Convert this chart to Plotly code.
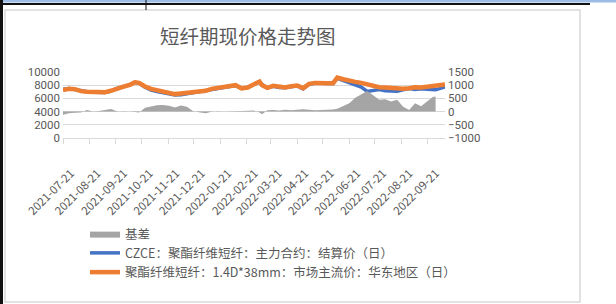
import plotly.graph_objects as go

dates = ["2021-07-21","2021-07-28","2021-08-04","2021-08-11","2021-08-18","2021-08-25",
         "2021-09-01","2021-09-08","2021-09-15","2021-09-22","2021-09-29","2021-10-08",
         "2021-10-13","2021-10-18","2021-10-25","2021-11-01","2021-11-08","2021-11-15",
         "2021-11-22","2021-11-29","2021-12-06","2021-12-13","2021-12-20","2021-12-27",
         "2022-01-04","2022-01-11","2022-01-18","2022-01-25","2022-02-08","2022-02-15",
         "2022-02-22","2022-03-01","2022-03-08","2022-03-11","2022-03-17","2022-03-24",
         "2022-03-31","2022-04-07","2022-04-14","2022-04-21","2022-04-28","2022-05-05",
         "2022-05-12","2022-05-19","2022-05-26","2022-06-02","2022-06-07","2022-06-14",
         "2022-06-21","2022-06-28","2022-07-05","2022-07-12","2022-07-19","2022-07-26",
         "2022-08-02","2022-08-09","2022-08-16","2022-08-23","2022-08-30","2022-09-06",
         "2022-09-13","2022-09-20","2022-09-27","2022-09-30","2022-10-11"]

spot = [7250,7450,7400,7100,7000,6950,6900,6950,7150,7500,7750,8100,
        8450,8350,7800,7450,7250,7100,6950,6650,6750,6850,6900,7000,
        7150,7450,7600,7750,8000,7500,7650,8100,8550,8000,7600,7900,
        7700,7650,7850,7950,7550,8200,8350,8400,8300,8300,9150,8900,
        8650,8500,8350,8100,7800,7700,7650,7550,7550,7450,7550,7700,
        7650,7750,7800,7850,8100]

futures = [7400,7500,7350,7150,7000,6950,6900,6900,7100,7500,7750,8100,
           8450,8300,7700,7250,7050,6900,6750,6500,6550,6700,6900,7000,
           7200,7450,7600,7750,7950,7500,7650,8100,8550,8100,7550,7850,
           7650,7600,7800,7900,7450,8150,8300,8350,8250,8250,9050,8700,
           8350,7950,7700,7050,7200,7350,7150,7150,7100,7300,7500,7350,
           7450,7400,7250,7300,7750]

basis = [-120,-60,-40,-30,60,0,20,60,100,10,-10,0,
         -20,-30,150,200,240,250,220,160,230,180,20,-20,
         -60,-10,10,0,30,20,30,40,-30,-100,50,60,
         40,70,50,60,90,70,50,60,60,80,110,220,
         320,520,650,780,620,450,470,380,450,180,60,320,
         200,380,560,560,None]

tick_vals = ["2021-07-21","2021-08-21","2021-09-21","2021-10-21","2021-11-21","2021-12-21",
             "2022-01-21","2022-02-21","2022-03-21","2022-04-21","2022-05-21","2022-06-21",
             "2022-07-21","2022-08-21","2022-09-21"]
tick_text = tick_vals

W, H = 616, 304
L, R, T, B = 63, 445, 72, 138

def px(x):
    return (x - L) / (R - L)

def py(y):
    return (B - y) / (B - T)

FONT = "Noto Sans CJK SC"
NUMFONT = "Roboto"
GREY = "#595959"

fig = go.Figure()
fig.add_trace(go.Scatter(x=dates, y=basis, name="基差", yaxis="y2", mode="lines",
                         line=dict(color="#A5A5A5", width=0), fill="tozeroy",
                         fillcolor="#A5A5A5", connectgaps=False))
fig.add_trace(go.Scatter(x=dates, y=futures, name="CZCE：聚酯纤维短纤：主力合约：结算价（日）",
                         mode="lines", line=dict(color="#4472C4", width=3.5)))
fig.add_trace(go.Scatter(x=dates, y=spot, name="聚酯纤维短纤：1.4D*38mm：市场主流价：华东地区（日）",
                         mode="lines", line=dict(color="#ED7D31", width=4.5)))

shapes = [
    dict(type="rect", xref="paper", yref="paper", x0=px(5), x1=px(580), y0=py(10), y1=py(302),
         line=dict(color="#D9D9D9", width=1.5), fillcolor="rgba(0,0,0,0)", layer="below"),
    dict(type="rect", xref="paper", yref="paper", x0=px(0), x1=px(616), y0=py(0), y1=py(2.5),
         line=dict(width=0), fillcolor="#9DBCE3"),
    dict(type="rect", xref="paper", yref="paper", x0=px(0), x1=px(590), y0=py(3), y1=py(5),
         line=dict(width=0), fillcolor="#111111"),
    dict(type="rect", xref="paper", yref="paper", x0=px(0), x1=px(3), y0=py(0), y1=py(304),
         line=dict(width=0), fillcolor="#111111"),
    dict(type="line", xref="paper", yref="paper", x0=px(146), x1=px(146), y0=py(0), y1=py(10),
         line=dict(color="#111111", width=1)),
]

fig.update_layout(
    width=W, height=H,
    margin=dict(l=L, r=W - R, t=T, b=H - B, autoexpand=False),
    paper_bgcolor="white", plot_bgcolor="white",
    font=dict(family=FONT, color=GREY, size=11),
    showlegend=True,
    legend=dict(x=px(85), xanchor="left", y=py(219), yanchor="top",
                orientation="v", font=dict(size=12.5, color=GREY, family=FONT),
                bgcolor="rgba(0,0,0,0)", tracegroupgap=0, itemwidth=30),
    annotations=[dict(text="短纤期现价格走势图", x=px(248), y=py(35), xref="paper", yref="paper",
                      showarrow=False, font=dict(size=19.5, color=GREY, family=FONT),
                      xanchor="center", yanchor="middle")],
    shapes=shapes,
    xaxis=dict(type="date", range=["2021-07-21", "2022-10-11"], tickmode="array",
               tickvals=tick_vals, ticktext=tick_text, tickangle=-45,
               ticks="outside", ticklen=5, tickcolor="#D9D9D9", showgrid=False,
               showline=True, linecolor="#D9D9D9", linewidth=1,
               ticklabelstandoff=18, ticklabelshift=8,
               tickfont=dict(size=11.5, color=GREY), zeroline=False),
    yaxis=dict(range=[0, 10000], dtick=2000, tickformat="d", showgrid=True, gridcolor="#D9D9D9",
               zeroline=False, tickfont=dict(size=11.5, color=GREY, family=NUMFONT),
               ticks="", showline=False, ticklabelstandoff=2),
    yaxis2=dict(range=[-1000, 1500], dtick=500, tickformat="d", overlaying="y", side="right",
                showgrid=False, zeroline=False,
                tickfont=dict(size=11.5, color=GREY, family=NUMFONT),
                ticks="", showline=False, ticklabelstandoff=2),
)

fig.write_html("out.html", config={"displayModeBar": False},
               post_script="document.body.style.margin='0px';")
